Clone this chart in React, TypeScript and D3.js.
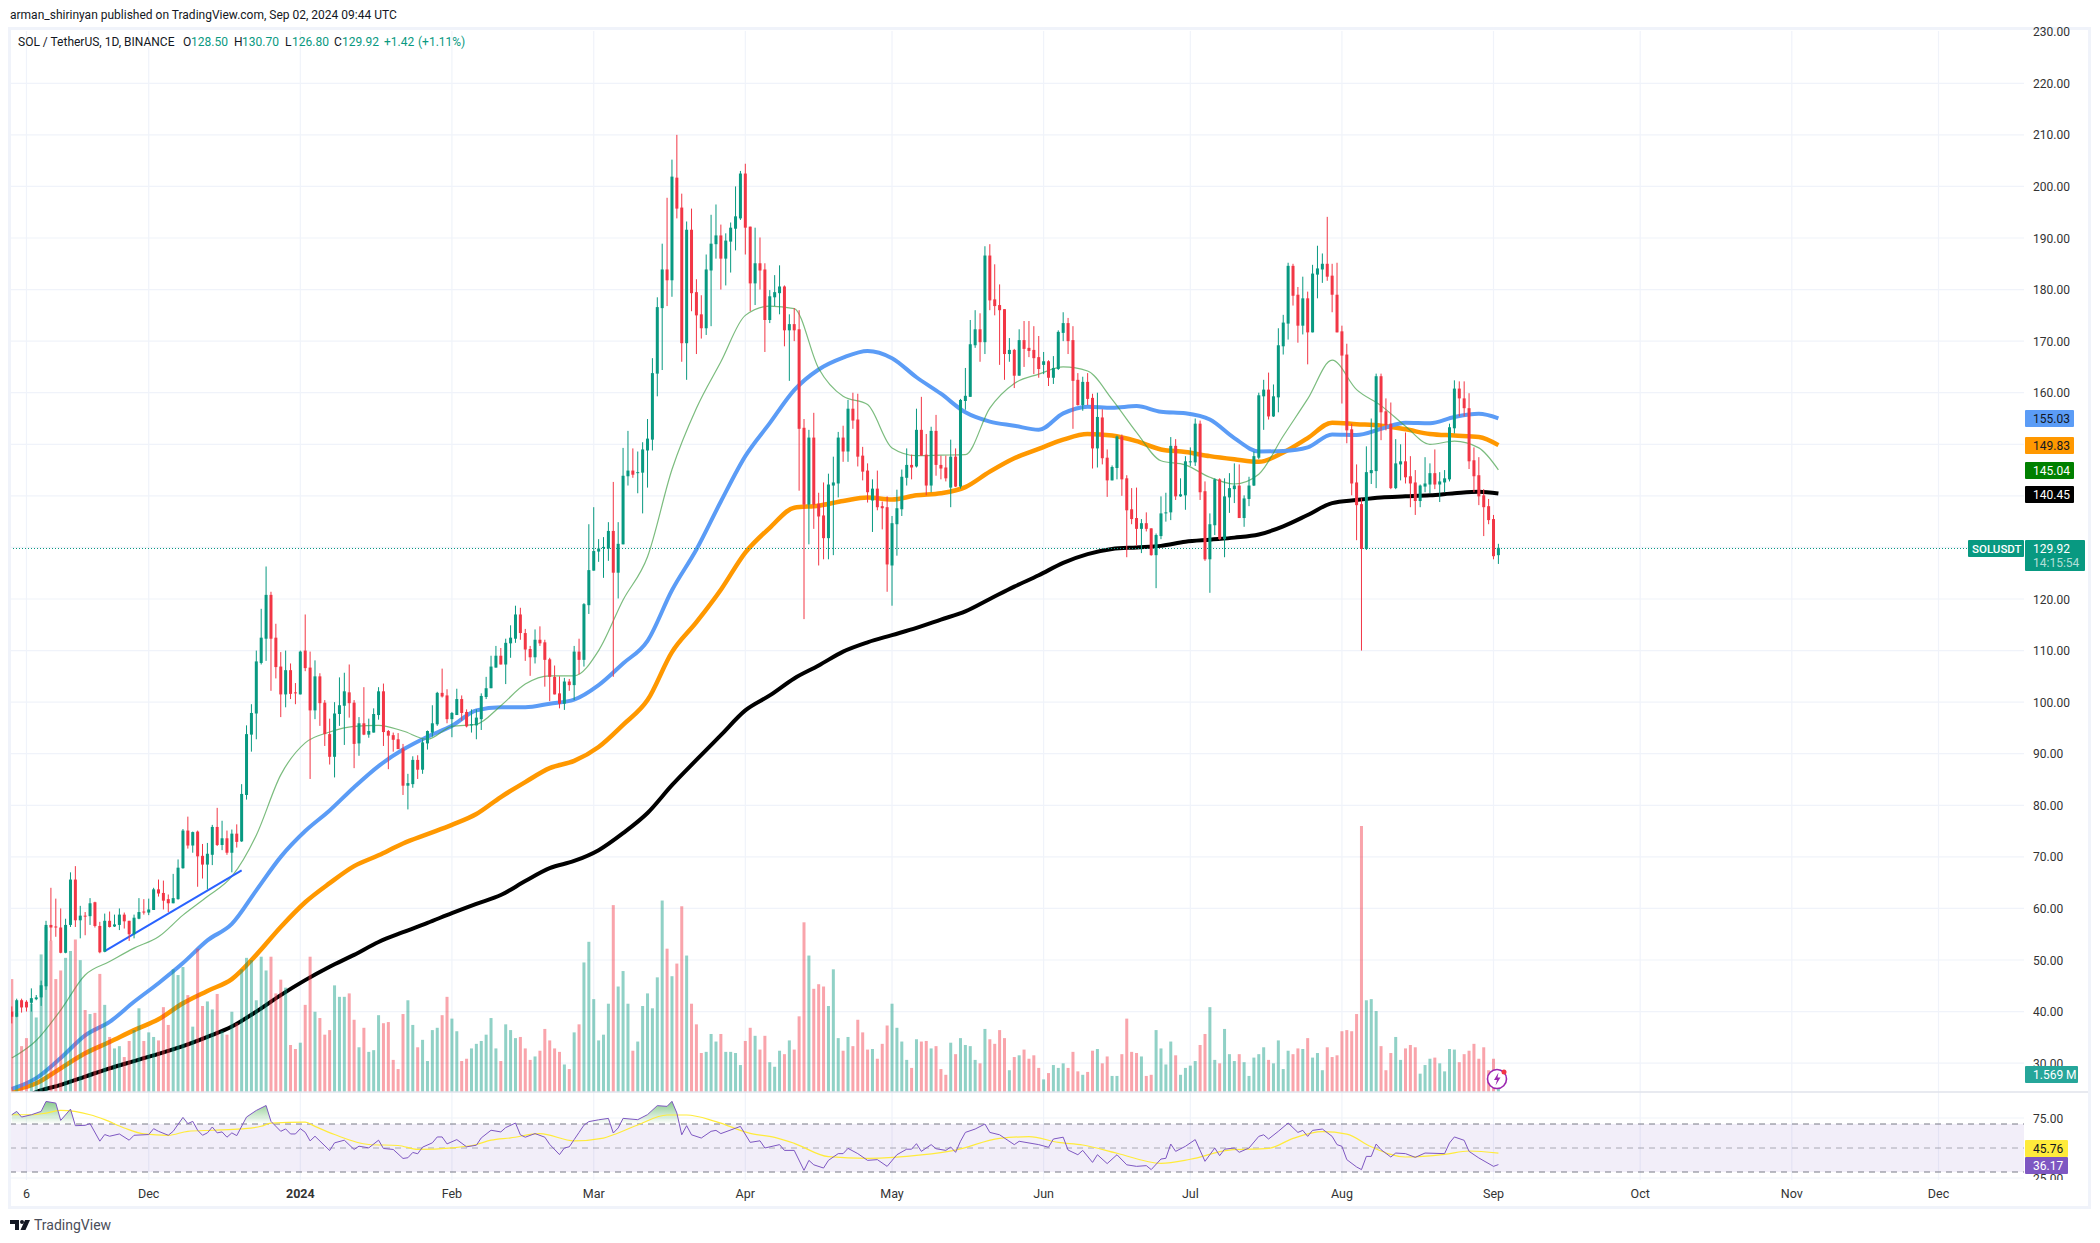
import React from 'react';
import * as d3 from 'd3';

// daily candles, one table per month: [open, high, low, close]
const nov23 = [
  [40, 41, 37.7, 39], [39, 42.5, 38.9, 42.2], [42.2, 42.5, 39.8, 40.8], [41.9, 42.2, 40, 40.8],
  [41.7, 44.5, 40, 42.6], [42.4, 43.2, 42.2, 42.75], [42.75, 46, 41.1, 45.1], [44.9, 57.6, 44.2, 56.8],
  [56.8, 64, 53.7, 56.3], [56.5, 61.9, 54.5, 56.3], [56.3, 60, 51.3, 51.4], [51.4, 58, 51.3, 56.8],
  [56.8, 67, 56.4, 65.6], [65.6, 68.2, 56.4, 57.7], [57.7, 60.5, 54.2, 58.6], [58.6, 59.3, 54.8, 58.5],
  [58.5, 62, 56.8, 61], [61.2, 61.3, 56.3, 56.6], [56.6, 57.4, 51.3, 51.5], [51.6, 59, 51.5, 57.6],
  [57.6, 59.4, 56.3, 56.4], [56.5, 58.8, 56.4, 56.9], [56.8, 60, 55.8, 58.8], [58.8, 59.2, 56.1, 57.5],
  [57.6, 57.6, 53.7, 55], [55, 58.8, 54.2, 58.2], [58, 62, 57.9, 59.3], [59.4, 61.8, 58.8, 59.2],
];
const dec23 = [
  [59.2, 61.9, 58.7, 59.8], [59.7, 64, 59.7, 63.7], [63.7, 65.6, 62.3, 62.9], [63, 65.4, 59.8, 61.5],
  [61.8, 62.7, 59.3, 61], [61, 66.7, 61, 62], [61.8, 69.5, 61.7, 67.9], [67.8, 75.4, 67.7, 75.1],
  [75.1, 77.8, 71.6, 72.2], [72.2, 74.9, 70.8, 74.8], [74.9, 75.1, 64.2, 70.1], [70.2, 72.5, 65.8, 68.5],
  [68.5, 72.7, 63.7, 70.6], [70.4, 76.2, 68.4, 75.8], [75.8, 79.5, 72.1, 72.3], [72.3, 77, 71.3, 73.6],
  [73.6, 75.1, 70.4, 70.8], [70.8, 75.3, 67, 74.5], [74.5, 76.3, 71.8, 72.9], [73, 84.1, 72.9, 82.2],
  [82, 95.5, 81.1, 93.8], [93.7, 99.6, 90.4, 97.9], [97.8, 110, 92.8, 107.9], [107.6, 118.1, 107.3, 112.5],
  [112.3, 126.3, 108, 120.8], [120.8, 121.4, 102.2, 112.3], [112.5, 115.2, 104.6, 106.8], [106.9, 109.7, 97.1, 101.5],
  [101.5, 110, 99, 106.2], [106.2, 107.5, 100.6, 101.6], [101.9, 103.7, 99.6, 101.7],
];
const jan24 = [
  [101.5, 110, 101.5, 109.8], [110, 117, 106, 106.6], [106.7, 109.8, 85.1, 98.4], [98.4, 108.1, 96.7, 105],
  [105, 105.6, 95.4, 99.8], [99.9, 100.4, 91.5, 93.8], [93.8, 96.8, 87.9, 89.4], [89.4, 100, 85.4, 97.8],
  [97.7, 104.8, 95.4, 99.4], [99.3, 105.7, 91.7, 102.1], [101.9, 107.3, 97, 99.8], [99.9, 100.4, 87.2, 91.9],
  [92, 97.1, 89.6, 95.9], [95.9, 102.9, 93.6, 93.7], [93.7, 96.8, 93.1, 94.4], [94.1, 98.8, 94.1, 97.7],
  [97.5, 102.9, 96.6, 102.1], [102.1, 103.6, 91.5, 94.2], [94.4, 94.6, 87, 93.5], [93.6, 94.1, 90.4, 92.7],
  [92.8, 94, 90.9, 90.9], [91, 91.9, 82, 83.8], [83.8, 86.1, 79.2, 84.3], [84.1, 89.5, 83.4, 88.8],
  [88.8, 89.7, 85.1, 86.9], [86.9, 92.8, 86.1, 92.2], [92, 94.5, 90.8, 94.4], [94.1, 99.4, 93.3, 95.9],
  [95.7, 102, 95.4, 101.8], [101.8, 106.5, 100.9, 101.1], [101.3, 102.5, 95.9, 96.7],
];
const feb24 = [
  [96.7, 98.1, 93.2, 97.9], [97.5, 102.6, 97.5, 100.6], [100.6, 101.3, 96.4, 97.9], [98.1, 98.6, 95.1, 95.3],
  [95.5, 98.6, 94.1, 95.7], [95.5, 98.6, 92.8, 97], [96.7, 101.7, 94.6, 101.2], [101, 104.9, 100.6, 102.7],
  [102.7, 109, 102.7, 106.9], [106.7, 110.9, 106.7, 109], [109, 110.5, 107.3, 107.3], [107.3, 112.3, 103.5, 111.5],
  [111.4, 114.9, 108.6, 112.5], [112.3, 118.7, 111.5, 117], [117, 118.3, 112.1, 113.4], [113.4, 114.2, 108, 110.2],
  [110.3, 110.9, 105.1, 108.7], [108.7, 114.1, 107.5, 112.1], [112.1, 114.7, 110.9, 111.4], [111.6, 112.1, 103, 108.2],
  [108.3, 108.6, 100.2, 104.9], [104.9, 107.1, 101.5, 101.5], [101.7, 105, 98.8, 99.7], [99.7, 104.7, 98.5, 104],
  [104, 104.5, 102.2, 103.3], [103.3, 110.9, 100.4, 109.8], [109.8, 112.3, 105.4, 108.2], [108.2, 119.2, 106.9, 119],
  [118.8, 134.5, 117.1, 125.6],
];
const mar24 = [
  [125.5, 137.8, 125.5, 129.3], [129.2, 131.6, 127.2, 129.8], [129.9, 132, 124.1, 130.1], [129.8, 134.9, 127.4, 133.2],
  [133.2, 142.7, 104.9, 125.1], [125.1, 134.9, 120.1, 130.7], [130.6, 149.3, 130.6, 143.9], [143.8, 152.6, 142, 144.9],
  [144.9, 149.2, 143.5, 144.1], [144.4, 148.6, 140.5, 144.6], [144.5, 150.4, 136.6, 149], [148.8, 154.9, 141.6, 151.1],
  [150.9, 166.7, 148.8, 163.8], [163.7, 178.5, 159.3, 176.6], [176.4, 188.9, 164.4, 183.9], [183.9, 197.8, 176.8, 181.8],
  [181.8, 205.2, 178.6, 201.9], [201.7, 210, 193.8, 195.7], [195.9, 198.6, 166, 169.6], [169.6, 193.2, 162.5, 191.6],
  [191.6, 195.7, 175.8, 179.3], [179.5, 182, 167.5, 175], [175.2, 178.9, 170.5, 172.5], [172.5, 186.8, 171.2, 183.9],
  [183.7, 194.5, 172.9, 188.9], [188.8, 196.5, 186, 190.5], [190.5, 192.6, 180, 186], [186, 190.9, 180.8, 189.5],
  [189.3, 193, 183.3, 192], [191.8, 200, 187.6, 194.2], [193.8, 203, 193.5, 202.5],
];
const apr24 = [
  [202.5, 204.4, 186.8, 192], [192.2, 192.2, 175.8, 181.2], [181.2, 192, 177, 185.1], [185.1, 190.1, 180, 183.7],
  [183.9, 185.1, 167.9, 174.1], [174.1, 179.9, 173.5, 178.7], [178.5, 182.8, 176.8, 179.5], [179.3, 184.7, 175.2, 180.6],
  [180.6, 180.8, 169, 172.1], [172.1, 175.2, 162.3, 173.3], [173.3, 176.4, 170, 172.1], [172.3, 176, 141, 153],
  [153.2, 154.9, 116.1, 138.3], [138.3, 152.8, 130.6, 151.3], [151.3, 156.1, 133.6, 138.3], [138.5, 140.6, 126.5, 136],
  [136.2, 142.6, 127.7, 131.8], [131.8, 144.3, 127.7, 142.2], [142, 147.6, 128.5, 142.6], [142.4, 152.4, 139.7, 151.3],
  [151.3, 153.6, 146.6, 148.6], [148.6, 158.6, 146.6, 156.9], [156.9, 160, 153, 154.6], [154.8, 159.8, 145.7, 147.6],
  [147.8, 149.5, 143, 144.7], [144.9, 146.3, 138.7, 140.7], [139.1, 143.2, 133, 141.4], [141.4, 144.9, 137.2, 137.8],
  [138, 138.9, 133.5, 137.6], [137.8, 139.9, 121.4, 126.7],
];
const may24 = [
  [126.5, 136.1, 118.7, 134.7], [134.5, 141.2, 128.4, 137.6], [137.4, 145.1, 136.1, 143.7], [143.5, 149.2, 142, 146],
  [146, 148, 143.2, 145.5], [145.7, 156.9, 145.5, 152.8], [152.8, 159.2, 147.8, 147.8], [148, 152, 140.1, 142],
  [142, 153.4, 140.7, 152.6], [152.6, 155.7, 143.9, 146], [146, 147.8, 143.2, 145.3], [145.5, 147.8, 142.8, 143.4],
  [141.6, 150.9, 137.8, 147.6], [147.6, 149.2, 141.7, 141.8], [141.8, 158.8, 141.4, 158.6], [158.4, 164.8, 156.7, 159.4],
  [159.2, 174.1, 159.2, 169.4], [169.2, 176, 168.7, 172.3], [172.3, 175.4, 166, 169.8], [169.8, 188.4, 167.5, 186.6],
  [186.6, 188.8, 176, 177.9], [178.1, 184.9, 175, 176.8], [177, 181, 165.4, 176], [176.2, 176.2, 162.5, 167.5],
  [167.5, 170.6, 166, 168.3], [168.3, 168.5, 160.9, 163.3], [163.3, 172.3, 163.3, 170.2], [170.2, 173.9, 165, 168.5],
  [168.7, 173.9, 166.9, 168.1], [168.3, 172.9, 163.6, 166.7], [166.9, 171, 162.9, 164.6],
];
const jun24 = [
  [165.4, 167.9, 163.6, 166.1], [166.1, 166.3, 161.3, 162.9], [162.9, 167.1, 161.7, 164.8], [164.6, 172.1, 164.4, 171.8],
  [171.6, 175.6, 170, 173.5], [173.5, 174.5, 167.5, 170], [170.2, 172.9, 153, 162.3], [162.5, 163.8, 157.5, 157.6],
  [157.6, 163.1, 156.5, 162.1], [162.1, 163.8, 157.6, 158.8], [159, 159.8, 145.3, 149.2], [149.2, 160, 145.5, 155.3],
  [155.2, 156.8, 146.1, 147.3], [147.4, 149, 139.8, 143], [143, 145.9, 143, 145.6], [145.4, 151.7, 143.2, 151.5],
  [151.5, 151.9, 140, 143.2], [143.4, 144, 128.1, 137.2], [137.4, 141.5, 134.5, 135.5], [135.7, 141.6, 130.3, 133.6],
  [133.6, 135.5, 128.9, 134.7], [134.7, 136.8, 133.1, 133.6], [133.7, 133.7, 128.4, 128.5], [128.5, 132.7, 122.1, 132.4],
  [132.2, 139.9, 131.6, 136.6], [136.6, 140.6, 135, 136.8], [136.8, 151.4, 135.3, 149.7], [149.7, 151, 139.2, 139.9],
  [139.9, 143.4, 139.8, 140.3], [140.1, 147.7, 137.3, 146.7],
];
const jul24 = [
  [146.5, 149.4, 145.8, 146.7], [146.5, 155, 145.8, 154], [154, 154.6, 139.2, 140.7], [140.9, 142.8, 127.4, 127.7],
  [127.7, 136.6, 121.2, 134.5], [134.3, 143.4, 132.4, 143.2], [143.2, 143.4, 131.5, 131.6], [131.6, 143.4, 128.1, 139.9],
  [139.7, 144.4, 136.7, 141.5], [141.3, 146.3, 138.6, 142], [142, 146.1, 135.7, 135.7], [135.7, 140.1, 134, 139.5],
  [139.4, 143.7, 138, 142], [142, 148.6, 141.9, 147.7], [147.4, 160, 147.1, 159.5], [159.3, 162.5, 152.8, 160.6],
  [160.6, 163.9, 154.8, 155.4], [155.4, 161.6, 155.3, 159.3], [159.1, 172.5, 156.2, 169.2], [169, 175.1, 167.4, 173.6],
  [173.4, 185.2, 170.3, 184.6], [184.6, 185, 176.9, 178.8], [179, 180.5, 169.7, 173], [173, 182.5, 171.3, 178.3],
  [178.3, 179.6, 165.5, 171.7], [171.7, 184.8, 171.7, 183.1], [182.9, 188.5, 178.3, 184.1], [183.9, 187, 181.3, 185],
  [185, 194.1, 181.7, 182.5], [182.7, 185, 175.6, 179], [179, 185.2, 171.7, 171.7],
];
const aug24 = [
  [171.9, 173, 157.9, 167.2], [167.4, 169.5, 150.2, 152.7], [152.9, 154, 140.1, 142.4], [142.6, 146.1, 131.4, 138.2],
  [138.4, 139.5, 110, 129.7], [129.7, 149.6, 129.5, 144.6], [144.4, 155, 142.3, 145], [144.8, 163.7, 141.5, 163.2],
  [163.2, 163.7, 150.8, 156.2], [156.4, 158.9, 152.7, 153.7], [154, 158.1, 141.3, 141.5], [141.5, 151, 141.3, 146.3],
  [146.1, 150, 143, 146.7], [146.7, 152.3, 142.4, 143.6], [143.8, 147.7, 137.8, 142.4], [142.6, 145, 136.3, 139],
  [139, 142.2, 137.8, 142], [141.8, 147.5, 140.7, 142.4], [142.2, 146.3, 140.5, 144.4], [144.4, 149, 141.3, 142.2],
  [142.2, 144.6, 138.8, 142.8], [142.6, 145, 140.7, 143.4], [143.2, 154, 142.8, 153.3], [153.1, 162.4, 152.1, 160.8],
  [160.8, 162.2, 155.4, 158.9], [158.9, 162.2, 155.4, 157], [157, 159.9, 145.2, 146.7], [146.9, 149.4, 140.7, 143.8],
  [144, 147.5, 138.2, 139.9], [140.1, 141.3, 132.2, 137.8], [138, 139.4, 134.5, 135.3],
];
const sep24 = [
  [135.5, 136.3, 127.7, 128.3], [128.5, 130.7, 126.8, 129.92],
];
const candles = [...nov23, ...dec23, ...jan24, ...feb24, ...mar24, ...apr24, ...may24, ...jun24, ...jul24, ...aug24, ...sep24];

// volume in millions, same day order
const volNov = [9.85, 6.9, 4, 4.7, 7.7, 6.5, 12, 14.4, 13.2, 9.85, 10.6, 11.7, 12.3, 13.3, 11.5, 7.15, 6.8, 6.9, 10.3, 7.6, 4.8, 3.8, 4, 3.05, 4.45, 5.4, 7.3, 4.45];
const volDec = [5.2, 4.8, 4.5, 7.4, 5.85, 10.7, 10.2, 10.9, 8.45, 5.7, 12.5, 7.5, 7.9, 7.2, 8.55, 5.3, 5, 7, 6, 10.7, 11.7, 11.5, 8, 11.8, 10.6, 11.8, 8.6, 9.8, 9.1, 4.1, 3.75];
const volJan = [4.3, 7.6, 11.8, 7, 6.45, 5, 5.4, 9.3, 8.3, 8.3, 8.6, 6.3, 3.9, 5.6, 3.5, 3.65, 6.7, 6, 6.1, 2.8, 2, 6.8, 8, 5.85, 3.9, 4.55, 2.7, 5.4, 5.6, 6.7, 8.3];
const volFeb = [6.4, 5.3, 2.7, 2.9, 3.8, 4.2, 4.45, 5, 6.45, 3.8, 2.7, 5.9, 5.4, 4.7, 4.8, 3.8, 2.8, 3.1, 3.6, 5.5, 4.5, 3.8, 3.5, 2.4, 2, 5.2, 5.9, 11.3, 13.1];
const volMar = [8.1, 4.5, 5, 7.7, 16.3, 9.2, 10.55, 7.7, 3.6, 4.4, 7.5, 8.6, 7.3, 10, 16.7, 12.5, 10.1, 11.2, 16.2, 11.9, 7.7, 5.9, 3.4, 3.5, 5.06, 4.4, 5.06, 3.5, 3.5, 3.4, 2.35];
const volApr = [4.45, 5.6, 4.9, 3.7, 4.9, 2.6, 2.2, 3.6, 3.3, 4.5, 3.7, 6.6, 14.8, 11.9, 9, 9.4, 9.2, 7.5, 10.7, 4.7, 3.6, 4.8, 4, 6.3, 5.2, 3.7, 3.75, 2.9, 4.2, 5.8];
const volMay = [7.7, 5.6, 4.4, 2.8, 2.1, 4.6, 4.4, 4.45, 3.8, 4, 2, 1.5, 4.3, 3.3, 4.7, 4.1, 4, 2.8, 2.5, 5.5, 4.6, 4.2, 5.4, 4.7, 1.9, 3.05, 3.2, 3.7, 2.9, 3.2, 2.1];
const volJun = [1.1, 1.65, 2.35, 2.1, 2.5, 2.1, 3.5, 1.8, 1.5, 1.75, 3.6, 3.75, 2.5, 3.1, 1.4, 1.4, 3.3, 6.4, 3.5, 3.4, 3.1, 1.4, 1.5, 5.4, 3.8, 2.4, 4.4, 3.2, 1.5, 2.1];
const volJul = [2.3, 2.7, 4.1, 5.06, 7.4, 2.8, 2.5, 5.5, 3.3, 2.7, 3.3, 2.6, 1.4, 3, 3.3, 3.9, 2.8, 2.5, 4.5, 2, 3.6, 3.3, 3.8, 3.75, 4.7, 3, 3.4, 1.9, 3.9, 3.05, 3.2];
const volAug = [5.3, 5.4, 5.3, 6.8, 23.2, 8, 8.1, 7.06, 4, 1.9, 3.4, 4.8, 2.8, 3.8, 4.1, 3.9, 1.6, 2.35, 2.9, 3, 2.5, 1.8, 3.75, 3.7, 2.6, 3.3, 3.6, 4.2, 2.9, 3.9, 1.9];
const volSep = [2.9, 1.569];
const volumes = [...volNov, ...volDec, ...volJan, ...volFeb, ...volMar, ...volApr, ...volMay, ...volJun, ...volJul, ...volAug, ...volSep];

// moving averages, read every 5 days from the first candle
const maDays = [0, 5, 10, 15, 20, 25, 30, 35, 40, 45, 50, 55, 60, 65, 70, 75, 80, 85, 90, 95, 100, 105, 110, 115, 120, 125, 130, 135, 140, 145, 150, 155, 160, 165, 170, 175, 180, 185, 190, 195, 200, 205, 210, 215, 220, 225, 230, 235, 240, 245, 250, 255, 260, 265, 270, 275, 280, 285, 290, 295, 300, 304];
const ma20 = [31, 34.4, 40.3, 47.1, 49.7, 52.3, 54.5, 58.7, 62.3, 66.2, 74.2, 85.9, 92.1, 94.2, 95.3, 95.5, 94.4, 92.8, 95.3, 95.7, 99.3, 103.5, 105.1, 105.1, 110, 119.8, 128.2, 145.1, 157, 166, 175, 176.8, 176.3, 164.7, 159.3, 157.7, 149.3, 147.8, 147.9, 148, 157, 161.8, 163.6, 165, 164.2, 158.7, 152.3, 146.8, 146, 143.6, 142.3, 144.2, 151.6, 158.8, 166.3, 160.6, 157.5, 153.5, 150, 150.6, 149.3, 145.04];
const ma50 = [25, 27.1, 31, 35.4, 38, 41.9, 45.5, 49.4, 53.8, 57, 63.5, 70, 75, 79, 83.5, 87.6, 90.8, 93.3, 95.4, 98.4, 99, 99, 99.7, 100.5, 103.3, 107.5, 111.9, 121.7, 129.6, 138.9, 147.7, 154.1, 160.5, 164.5, 166.8, 168.1, 166.7, 163, 159.8, 156.2, 154.4, 153.6, 152.8, 156, 157.3, 157.1, 157.4, 156.3, 156, 154.8, 151.2, 148.6, 148.7, 149.4, 151.9, 151.8, 153, 154.2, 154.1, 155.3, 155.9, 155.03];
const ma100 = [24.7, 26.1, 29, 31.9, 34.1, 36.4, 38.5, 41.6, 44, 46.3, 51, 56.4, 61.2, 64.9, 68.2, 70.3, 72.6, 74.4, 76.2, 78.3, 81.6, 84.5, 87.2, 88.6, 91.3, 95.6, 100.4, 109.7, 115.5, 121.8, 129, 133.8, 137.7, 138.1, 139, 139.7, 139.3, 140.1, 140.5, 141.7, 144.7, 147.3, 149.1, 150.9, 152, 151.7, 150.6, 149, 148.5, 147.7, 147.1, 146.6, 148.4, 151.2, 154.2, 153.9, 153.6, 152.9, 152, 151.7, 151.4, 149.83];
const ma200 = [22, 24.4, 25.8, 27.4, 29, 30.4, 31.8, 33.3, 35.1, 37.1, 40, 43.2, 46.1, 48.7, 51, 53.5, 55.4, 57.2, 59.1, 60.9, 62.6, 65.3, 67.8, 69.2, 71.3, 74.6, 78.5, 83.9, 88.8, 93.6, 98.4, 101.3, 104.6, 107.1, 109.8, 111.6, 113, 114.4, 116, 117.6, 120, 122.4, 124.6, 127, 128.7, 129.7, 130, 130.3, 131.1, 131.5, 131.9, 132.5, 134.1, 136.3, 138.6, 139.2, 139.7, 139.9, 140.1, 140.5, 140.8, 140.45];

// the hand drawn trend line
const trendDays = [19, 47];
const trendPrices = [51.7, 67.4];

// RSI and its average
const rsiDays = [0, 1, 2, 4, 6, 7, 9, 10, 12, 13, 15, 16, 18, 19, 20, 22, 24, 25, 28, 29, 30, 32, 33, 35, 36, 37, 38, 39, 40, 41, 42, 43, 44, 45, 46, 48, 50, 52, 53, 55, 56, 57, 58, 59, 60, 61, 62, 65, 66, 68, 70, 71, 73, 75, 76, 78, 80, 81, 82, 83, 84, 86, 87, 88, 89, 91, 93, 95, 96, 98, 100, 101, 103, 104, 105, 107, 109, 110, 112, 113, 114, 115, 116, 117, 118, 120, 122, 123, 124, 125, 128, 130, 132, 134, 135, 136, 137, 138, 139, 141, 143, 144, 145, 149, 151, 153, 154, 157, 158, 160, 162, 163, 164, 166, 167, 169, 170, 171, 173, 175, 177, 179, 181, 183, 184, 185, 186, 188, 189, 191, 192, 193, 194, 195, 197, 199, 200, 202, 205, 206, 210, 212, 213, 215, 216, 218, 219, 221, 222, 224, 226, 228, 230, 232, 233, 235, 236, 237, 238, 240, 242, 244, 246, 247, 248, 250, 251, 253, 255, 256, 257, 259, 261, 263, 264, 265, 266, 268, 270, 271, 272, 273, 275, 276, 277, 278, 279, 280, 282, 283, 285, 287, 289, 293, 294, 295, 297, 298, 300, 303, 304];
const rsiValues = [77.7, 80.5, 75.8, 77.7, 80.5, 88.8, 87.4, 73, 82.4, 68.6, 68.9, 70.3, 55.7, 61.2, 59.8, 61.7, 56.5, 60.6, 61.2, 66.1, 63.9, 60.6, 63.9, 75.5, 70.3, 72.2, 64.8, 60.6, 62.6, 67.5, 62.6, 63.4, 59, 62.6, 60.3, 75.8, 81.3, 85.4, 72.2, 63.9, 65.9, 61.7, 61.7, 66.1, 63.1, 55.9, 59.8, 47.9, 54.3, 56.5, 48.8, 51.5, 50.1, 56.5, 49.6, 48.8, 41.3, 41.9, 46.3, 45.2, 50.7, 54.3, 59.2, 59.2, 53.4, 57, 51, 52.3, 58.4, 64.8, 63.4, 67, 70.8, 61, 59, 62, 59, 53, 44.5, 50, 51, 57, 63, 69, 72, 73.5, 74.7, 62.5, 66.7, 74.7, 73.6, 77.8, 85.3, 84.7, 88.9, 79.2, 61, 68.6, 61, 58.3, 63.9, 64.7, 62, 68, 54.7, 56, 50, 52.8, 48, 48, 31.4, 39.7, 36, 33.3, 39.7, 45.3, 45.3, 49.7, 45.3, 39.7, 40.3, 34.7, 44.4, 49, 49, 53.6, 47.2, 52.8, 49.4, 48, 50.8, 46.4, 55.6, 63, 65.8, 70, 63, 61, 52.8, 55.6, 52.8, 50.6, 57.5, 59, 48.3, 44.4, 48, 38, 44.4, 37, 44.4, 36, 34.7, 35.3, 32, 40.8, 41.4, 53.3, 47.2, 51.4, 57, 38.9, 50, 43.6, 49, 50, 46.4, 50, 59.7, 61, 57.5, 63.9, 70.8, 63, 64.7, 59.7, 64.7, 65.8, 59.7, 52.8, 51.4, 40.3, 34.2, 32, 43, 43, 53.3, 48.6, 42.5, 45.8, 45.3, 42.2, 45.8, 45.3, 54.2, 59.2, 56.4, 47.2, 41.7, 34.7, 36.17];
const rsiMaDays = [0, 4, 7, 10, 16, 19, 23, 27, 32, 36, 41, 47, 51, 53, 60, 62, 66, 73, 79, 83, 90, 95, 98, 102, 108, 115, 121, 123, 128, 134, 138, 144, 151, 156, 160, 167, 175, 186, 193, 202, 208, 214, 219, 226, 235, 241, 249, 257, 262, 268, 273, 278, 285, 293, 298, 304];
const rsiMaValues = [77.7, 77.7, 79.1, 81.3, 77.7, 73.6, 66.7, 61.7, 60.6, 63.9, 64.8, 65.9, 68.1, 70.8, 71.6, 68, 61.2, 52.9, 52.1, 48.8, 50.1, 52.9, 56.5, 58.4, 62, 56, 58.3, 61, 69.2, 77.5, 77.5, 72, 62.2, 58.9, 53.9, 42.8, 41.4, 44.2, 48.3, 58, 59.4, 54.7, 52.5, 45.6, 37.2, 40.6, 48.3, 49.7, 58, 63.6, 61.6, 51, 42.5, 44.7, 47.5, 45.76];

// axis labels
const priceTicks = d3.range(30, 231, 10);
const rsiTicks = [75, 25];
const timeTickDates = ['2023-11-06', '2023-12-01', '2024-01-01', '2024-02-01', '2024-03-01', '2024-04-01', '2024-05-01', '2024-06-01', '2024-07-01', '2024-08-01', '2024-09-01', '2024-10-01', '2024-11-01', '2024-12-01'];
const timeTickLabels = ['6', 'Dec', '2024', 'Feb', 'Mar', 'Apr', 'May', 'Jun', 'Jul', 'Aug', 'Sep', 'Oct', 'Nov', 'Dec'];

const UP = '#089981';
const DOWN = '#f23645';
const GRID = '#f0f3fa';
const FONT = 'Roboto, sans-serif';

const start = new Date(Date.UTC(2023, 10, 3));
const end = new Date(Date.UTC(2024, 8, 2));
const x = d3.scaleUtc().domain([start, end]).range([11.8, 1498.4]);
const xDay = (i: number) => x(d3.utcDay.offset(start, i));
const y = d3.scaleLinear().domain([190, 120]).range([238, 599]);
const yVol = d3.scaleLinear().domain([0, 23.2]).range([1092, 826]);
const yRsi = d3.scaleLinear().domain([70, 30]).range([1124, 1172]);

const maLine = d3.line<number>().x((_, i) => xDay(maDays[i])).y(d => y(d)).curve(d3.curveMonotoneX);
const trendLine = d3.line<number>().x((_, i) => xDay(trendDays[i])).y(d => y(d));
const rsiLine = d3.line<number>().x((_, i) => xDay(rsiDays[i])).y(d => yRsi(d));
const rsiMaLine = d3.line<number>().x((_, i) => xDay(rsiMaDays[i])).y(d => yRsi(d)).curve(d3.curveMonotoneX);
const rsiArea = d3.area<number>().x((_, i) => xDay(rsiDays[i])).y0(yRsi(70)).y1(d => yRsi(d));

const Tag = ({ top, label, fill, color, width = 49 }: { top: number; label: string; fill: string; color: string; width?: number }) => (
  <g>
    <rect x={2025} y={top} width={width} height={17} rx={1} fill={fill} />
    <text x={2033} y={top + 13} fontSize={12} fill={color}>{label}</text>
  </g>
);

export default function App() {
  return (
    <svg width={2100} height={1243} style={{ position: 'absolute', left: 0, top: 0, background: '#fff' }} fontFamily={FONT}>
      <defs>
        <clipPath id="price-pane"><rect x={10} y={31} width={2014} height={1061} /></clipPath>
        <clipPath id="above-70"><rect x={10} y={1092} width={2014} height={yRsi(70) - 1092} /></clipPath>
        <clipPath id="rsi-axis"><rect x={2025} y={1093} width={64} height={87} /></clipPath>
        <linearGradient id="ob" gradientUnits="userSpaceOnUse" x1={0} x2={0} y1={yRsi(90)} y2={yRsi(70)}>
          <stop offset="0%" stopColor="#4caf50" stopOpacity={0.7} />
          <stop offset="100%" stopColor="#4caf50" stopOpacity={0} />
        </linearGradient>
      </defs>

      <text x={10} y={19} fontSize={12} fill="#131722">arman_shirinyan published on TradingView.com, Sep 02, 2024 09:44 UTC</text>

      {/* grid */}
      {priceTicks.filter(t => t < 230).map(t => (
        <line key={t} x1={10} x2={2024} y1={y(t)} y2={y(t)} stroke={GRID} strokeWidth={1.2} />
      ))}
      {rsiTicks.map(t => (
        <line key={t} x1={10} x2={2024} y1={1118 + (75 - t) * 1.2} y2={1118 + (75 - t) * 1.2} stroke={GRID} strokeWidth={1.2} />
      ))}
      {timeTickDates.map(d => (
        <line key={d} x1={x(new Date(d))} x2={x(new Date(d))} y1={31} y2={1180} stroke={GRID} strokeWidth={1.2} />
      ))}

      <g clipPath="url(#price-pane)">
        <path d={maLine(ma200) ?? ''} fill="none" stroke="#000" strokeWidth={4} />
        <path d={maLine(ma100) ?? ''} fill="none" stroke="#ff9800" strokeWidth={4.5} />
        <path d={maLine(ma50) ?? ''} fill="none" stroke="#5b9cf6" strokeWidth={4} />
        <path d={maLine(ma20) ?? ''} fill="none" stroke="#43a047" strokeOpacity={0.7} strokeWidth={1.2} />

        {volumes.map((v, i) => (
          <rect key={i} x={xDay(i) - 1.5} y={yVol(v)} width={3} height={1092 - yVol(v)}
            fill={candles[i][3] >= candles[i][0] ? UP : DOWN} fillOpacity={0.45} />
        ))}

        <path d={trendLine(trendPrices) ?? ''} fill="none" stroke="#2962ff" strokeWidth={2} />
        <line x1={10} x2={1968} y1={y(129.92) + 0.5} y2={y(129.92) + 0.5} stroke={UP} strokeWidth={1} strokeDasharray="1 2" shapeRendering="crispEdges" />

        {candles.map(([o, h, l, c], i) => {
          const col = c >= o ? UP : DOWN;
          const top = y(Math.max(o, c));
          return (
            <g key={i}>
              <line x1={xDay(i)} x2={xDay(i)} y1={y(h)} y2={y(l)} stroke={col} strokeWidth={1} />
              <rect x={xDay(i) - 1.5} y={top} width={3} height={Math.max(1, y(Math.min(o, c)) - top)} fill={col} />
            </g>
          );
        })}
      </g>

      {/* RSI pane */}
      <rect x={10} y={yRsi(70)} width={2014} height={yRsi(30) - yRsi(70)} fill="#7e57c2" fillOpacity={0.1} />
      <line x1={10} x2={2024} y1={yRsi(70)} y2={yRsi(70)} stroke="#787b86" strokeDasharray="6 5" />
      <line x1={10} x2={2024} y1={yRsi(50)} y2={yRsi(50)} stroke="#787b86" strokeOpacity={0.6} strokeDasharray="6 5" />
      <line x1={10} x2={2024} y1={yRsi(30)} y2={yRsi(30)} stroke="#787b86" strokeDasharray="6 5" />
      <path d={rsiArea(rsiValues) ?? ''} fill="url(#ob)" clipPath="url(#above-70)" />
      <path d={rsiMaLine(rsiMaValues) ?? ''} fill="none" stroke="#ffeb3b" strokeWidth={1.2} />
      <path d={rsiLine(rsiValues) ?? ''} fill="none" stroke="#7e57c2" strokeWidth={1} />

      {/* frame and separators */}
      <line x1={10} x2={2090} y1={1092} y2={1092} stroke="#e0e3eb" strokeWidth={1.5} />
      <rect x={9.5} y={28.5} width={2080} height={1179} fill="none" stroke={GRID} strokeWidth={3} />

      {/* legend */}
      <g fontSize={12} fill={UP}>
        <text x={18} y={46} fill="#131722">SOL / TetherUS, 1D, BINANCE</text>
        <text x={183} y={46} fill="#131722">O</text>
        <text x={191} y={46}>128.50</text>
        <text x={234} y={46} fill="#131722">H</text>
        <text x={242} y={46}>130.70</text>
        <text x={285} y={46} fill="#131722">L</text>
        <text x={292} y={46}>126.80</text>
        <text x={334} y={46} fill="#131722">C</text>
        <text x={342} y={46}>129.92</text>
        <text x={384} y={46}>+1.42</text>
        <text x={418} y={46}>(+1.11%)</text>
      </g>

      {/* price axis */}
      <g fontSize={12} fill="#333">
        {priceTicks.map(t => (
          <text key={t} x={2033} y={y(t) + 4.5}>{t.toFixed(2)}</text>
        ))}
        <g clipPath="url(#rsi-axis)">
          {rsiTicks.map(t => (
            <text key={t} x={2033} y={1118 + (75 - t) * 1.2 + 4.5}>{t.toFixed(2)}</text>
          ))}
        </g>
      </g>

      {/* time axis */}
      <g fontSize={12.5} fill="#333" textAnchor="middle">
        {timeTickDates.map((d, i) => (
          <text key={d} x={x(new Date(d))} y={1198} fontWeight={timeTickLabels[i] === '2024' ? 700 : 400}>{timeTickLabels[i]}</text>
        ))}
      </g>

      {/* last value tags */}
      <Tag top={410} label="155.03" fill="#5b9cf6" color="#131722" />
      <Tag top={437} label="149.83" fill="#ff9800" color="#131722" />
      <Tag top={462} label="145.04" fill="#008000" color="#fff" />
      <Tag top={486} label="140.45" fill="#000" color="#fff" />

      <rect x={1968} y={540} width={56} height={17} rx={1} fill={UP} />
      <text x={1972} y={553} fontSize={11.5} fontWeight={500} fill="#fff">SOLUSDT</text>
      <rect x={2025} y={540} width={60} height={31} rx={1} fill={UP} />
      <text x={2033} y={553} fontSize={12} fill="#fff">129.92</text>
      <text x={2033} y={567} fontSize={12} fill="#fff" fillOpacity={0.7}>14:15:54</text>

      <Tag top={1066} label="1.569 M" fill="#26a69a" color="#fff" width={53} />
      <Tag top={1140} label="45.76" fill="#ffeb3b" color="#131722" width={43} />
      <Tag top={1157} label="36.17" fill="#7e57c2" color="#fff" width={43} />

      {/* alert icon on the last bar */}
      <circle cx={1497} cy={1079} r={9.5} fill="#fff" stroke="#9c27b0" strokeWidth={1.6} />
      <path d="M1498.5 1072.5 L1494 1080 L1497 1080 L1495.5 1085.5 L1500.5 1077.5 L1497.5 1077.5 Z" fill="#9c27b0" />
      <circle cx={1504} cy={1072} r={2.5} fill={DOWN} />

      {/* logo */}
      <g fill="#131722">
        <path d="M10 1220 H19 V1230 H15 V1224 H10 Z" />
        <circle cx={22} cy={1222} r={2} />
        <path d="M25 1220 H30 L25.5 1230 H20.5 Z" />
      </g>
      <text x={34} y={1230} fontSize={14} fill="#4a4e59">TradingView</text>
    </svg>
  );
}
